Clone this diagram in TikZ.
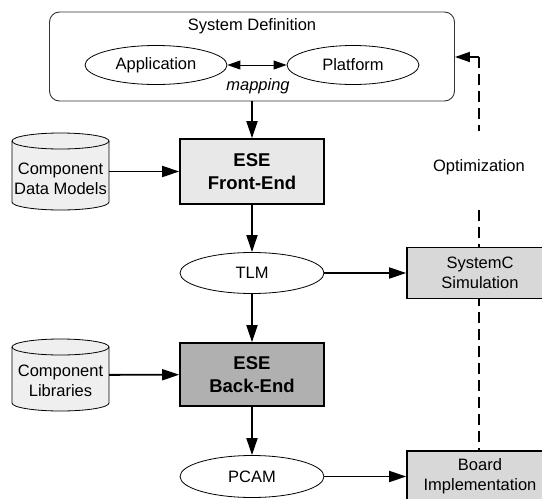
\documentclass[tikz,border=0pt]{standalone}
\usepackage{fontspec}
\setmainfont{Liberation Sans}
\usetikzlibrary{shapes.geometric,arrows.meta,backgrounds}
\definecolor{feGray}{HTML}{E8E8E8}
\definecolor{beGray}{HTML}{B0B0B0}
\definecolor{outGray}{HTML}{D8D8D8}
\definecolor{dbGray}{HTML}{EFEFEF}
\begin{document}
\begin{tikzpicture}[x=1pt,y=-1pt,
  txt/.style={font=\fontsize{16.5}{20}\selectfont, align=center},
  stagebox/.style={draw=black, line width=1.6pt, minimum width=144pt, inner sep=0pt,
    font=\fontsize{18.5}{23}\selectfont\bfseries, align=center},
  outbox/.style={draw=black, line width=1.6pt, fill=outGray, minimum width=146pt,
    inner sep=0pt, txt},
  oval/.style={ellipse, draw=black, line width=0.8pt, fill=white, inner sep=0pt, txt},
  store/.style={minimum width=97pt, inner sep=0pt, txt},
  drum/.style={draw=black, line width=0.8pt, fill=dbGray},
  flow/.style={line width=1.8pt, -{Triangle[length=17pt,width=11pt]}},
  mapflow/.style={line width=0.9pt, {Triangle[length=13pt,width=9pt]}-{Triangle[length=13pt,width=9pt]}},
  fbline/.style={line width=2.4pt, dash pattern=on 11pt off 6pt},
]
\useasboundingbox (0,0) rectangle (542,499);
\clip (0,0) rectangle (542,499);

% system definition frame
\node[draw=black!80, line width=0.9pt, rounded corners=10pt,
      minimum width=405pt, minimum height=89pt] (sysdef) at (252,56.5) {};
\node[txt] (title) at (252,26) {System Definition};
\node[oval, minimum width=142pt, minimum height=39pt] (app) at (156,65) {Application};
\node[oval, minimum width=132pt, minimum height=39pt] (plat) at (353,65) {Platform};
\node[txt, font=\fontsize{16.5}{20}\selectfont\itshape] (map) at (258,86) {mapping};
\draw[mapflow] (app) -- (plat);

% component databases
\draw[drum] (12,141) -- (12,202) arc[start angle=180,end angle=0,x radius=48.5,y radius=8]
  -- (109,141) arc[start angle=0,end angle=-180,x radius=48.5,y radius=8] -- cycle;
\draw[drum, fill=none] (12,141) arc[start angle=180,end angle=0,x radius=48.5,y radius=8];
\node[store, minimum height=77pt] (cdm) at (60.5,171.5) {};
\node[txt] (cdmtext) at (60.5,179) {Component\\Data Models};

\draw[drum] (12,347) -- (12,403) arc[start angle=180,end angle=0,x radius=48.5,y radius=8]
  -- (109,347) arc[start angle=0,end angle=-180,x radius=48.5,y radius=8] -- cycle;
\draw[drum, fill=none] (12,347) arc[start angle=180,end angle=0,x radius=48.5,y radius=8];
\node[store, minimum height=72pt] (cl) at (60.5,375) {};
\node[txt] (cltext) at (60.5,381) {Component\\Libraries};

% tool stages
\node[stagebox, fill=feGray, minimum height=65pt] (fe) at (252,171.5) {ESE\\Front-End};
\node[oval, minimum width=144pt, minimum height=41pt] (tlm) at (252,273) {TLM};
\node[stagebox, fill=beGray, minimum height=63pt] (be) at (252,374.5) {ESE\\Back-End};
\node[oval, minimum width=144pt, minimum height=42pt] (pcam) at (252,476.5) {PCAM};

% outputs
\node[outbox, minimum height=51pt] (sysc) at (480,273) {SystemC\\Simulation};
\node[outbox, minimum height=51pt] (board) at (480,476.5) {Board\\Implementation};

% main flow
\draw[flow] (sysdef) -- (fe);
\draw[flow] (cdm) -- (fe);
\draw[flow] (fe) -- (tlm);
\draw[flow] (tlm) -- (sysc);
\draw[flow] (tlm) -- (be);
\draw[flow] (cl) -- (be);
\draw[flow] (be) -- (pcam);
\draw[flow] (pcam) -- (board);

% optimization feedback
\coordinate (fbtop) at (479,57);
\begin{scope}[on background layer]
  \draw[fbline] (fbtop) -- (board.north -| fbtop);
\end{scope}
\draw[line width=1.8pt, -{Triangle[length=15pt,width=10pt]}] (fbtop) -- (sysdef.east |- fbtop);
\node[txt, fill=white, minimum height=73pt, inner xsep=1pt] (opt) at (479,167.5) {Optimization};
\end{tikzpicture}
\end{document}
